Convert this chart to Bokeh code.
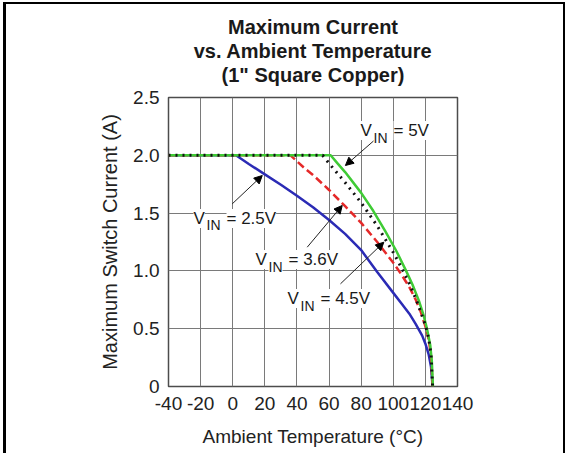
from bokeh.plotting import figure
from bokeh.models import Label, Arrow, NormalHead, FixedTicker, Title
from bokeh.embed import file_html
from bokeh.resources import INLINE

# ---- data ----
x_ticks = [-40, -20, 0, 20, 40, 60, 80, 100, 120, 140]
x_tick_labels = ["-40", "-20", "0", "20", "40", "60", "80", "100", "120", "140"]
y_ticks = [0, 0.5, 1, 1.5, 2, 2.5]
y_tick_labels = ["0", "0.5", "1.0", "1.5", "2.0", "2.5"]

temp_25 = [-40, 2, 10, 20, 30, 40, 50, 60, 70, 80, 90, 100, 105, 110, 114, 118, 120, 122, 123.5, 124.5]
curr_25 = [2.0, 2.0, 1.925, 1.835, 1.745, 1.65, 1.55, 1.44, 1.32, 1.18, 0.99, 0.81, 0.72, 0.63, 0.54, 0.44, 0.37, 0.28, 0.17, 0.0]

temp_36 = [-40, 36, 45, 50, 60, 70, 80, 90, 100, 105, 110, 114, 117, 120, 122, 123.5, 124.5]
curr_36 = [2.0, 2.0, 1.885, 1.83, 1.70, 1.56, 1.415, 1.25, 1.07, 0.97, 0.86, 0.75, 0.65, 0.52, 0.41, 0.27, 0.0]

temp_45 = [-40, 56, 60, 70, 80, 90, 100, 105, 110, 114, 117, 120, 122, 123.5, 124.5]
curr_45 = [2.0, 2.0, 1.93, 1.765, 1.59, 1.39, 1.16, 1.03, 0.89, 0.76, 0.65, 0.53, 0.42, 0.28, 0.0]

temp_50 = [-40, 61, 65, 70, 80, 87.5, 95, 102, 108, 112, 116, 119, 121, 123, 124, 124.7]
curr_50 = [2.0, 2.0, 1.935, 1.855, 1.675, 1.52, 1.345, 1.17, 1.0, 0.88, 0.74, 0.61, 0.5, 0.36, 0.22, 0.0]

title_lines = ["Maximum Current", "vs. Ambient Temperature", "(1\" Square Copper)"]

FONT = "Liberation Sans"

p = figure(width=562, height=451, x_range=(-40, 140), y_range=(0, 2.5),
           output_backend="svg", toolbar_location=None,
           min_border_left=162, min_border_right=111,
           min_border_top=93, min_border_bottom=69)
p.styles = {"margin-left": "3px", "margin-top": "2px",
            "border-left": "3px solid black", "border-top": "2px solid black",
            "border-right": "2px solid black"}
p.background_fill_color = "white"
p.border_fill_color = "white"
p.outline_line_color = "#4d4d4d"
p.outline_line_width = 1.5

# spacer between frame and title block, then the title lines (stacked outward)
p.add_layout(Title(text=" ", text_font=FONT, text_font_size="9px", standoff=0), "above")
for txt in reversed(title_lines):
    p.add_layout(Title(text=txt, align="center", text_font=FONT,
                       text_font_size="20px", text_font_style="bold",
                       text_color="#1a1a1a", standoff=0), "above")

# axes
p.xaxis.ticker = FixedTicker(ticks=x_ticks)
p.yaxis.ticker = FixedTicker(ticks=y_ticks)
p.xaxis.major_label_overrides = dict(zip(x_ticks, x_tick_labels))
p.yaxis.major_label_overrides = dict(zip(y_ticks, y_tick_labels))
for ax in (p.xaxis, p.yaxis):
    ax.axis_line_color = None
    ax.major_tick_line_color = None
    ax.minor_tick_line_color = None
    ax.major_tick_out = 0
    ax.major_tick_in = 0
    ax.major_label_text_font = FONT
    ax.major_label_text_font_size = "19px"
    ax.major_label_text_color = "#222222"
    ax.axis_label_text_font = FONT
    ax.axis_label_text_font_style = "normal"
    ax.axis_label_text_color = "#222222"
p.xaxis.axis_label_text_font_size = "19px"
p.yaxis.axis_label_text_font_size = "20px"
p.xaxis.axis_label = "Ambient Temperature (°C)"
p.yaxis.axis_label = "Maximum Switch Current (A)"
p.xaxis.major_label_standoff = 10
p.yaxis.major_label_standoff = 9
p.xaxis.axis_label_standoff = 13
p.yaxis.axis_label_standoff = 9

p.grid.grid_line_color = "#7a7a7a"
p.grid.grid_line_width = 1

# series
p.line(temp_25, curr_25, line_color="#2b2bb5", line_width=2.5)
p.line(temp_36, curr_36, line_color="#e52a2a", line_width=2.5, line_dash="8 4")
p.line(temp_50, curr_50, line_color="#3fcb35", line_width=2.5)
p.line(temp_45, curr_45, line_color="#111111", line_width=3, line_dash="2 5")

# arrows
for xs, ys, xe, ye in [(90.2, 2.154, 70.2, 1.912), (-0.3, 1.58, 18.4, 1.825),
                       (46.4, 1.205, 68.2, 1.566), (67.1, 0.888, 94.1, 1.248)]:
    p.add_layout(Arrow(end=NormalHead(size=8, fill_color="black", line_color="black"),
                       x_start=xs, y_start=ys, x_end=xe, y_end=ye,
                       line_color="#222222", line_width=1))

# V_IN labels
def vin_label(x, y, rest):
    common = dict(text_font=FONT, text_baseline="alphabetic", text_align="left",
                  text_color="#1a1a1a", background_fill_color="white")
    p.add_layout(Label(x=x, y=y, text="V", text_font_size="17px", **common))
    p.add_layout(Label(x=x, y=y, x_offset=13, y_offset=-7, text="IN",
                       text_font_size="14px", **common))
    p.add_layout(Label(x=x, y=y, x_offset=33, text=rest, text_font_size="17px", **common))

vin_label(79.58, 2.2145, "= 5V")
vin_label(-24.43, 1.4533, "= 2.5V")
vin_label(14.19, 1.0986, "= 3.6V")
vin_label(34.12, 0.7612, "= 4.5V")

open("out.html", "w").write(file_html(p, INLINE))
